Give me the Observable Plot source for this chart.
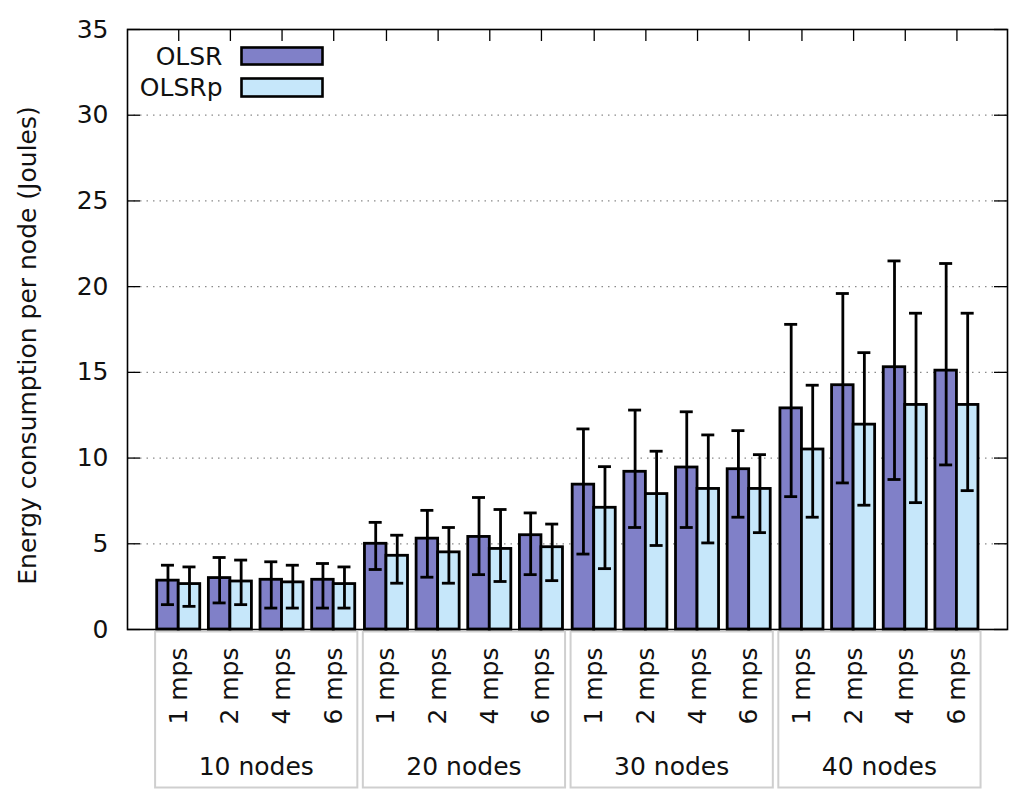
<!DOCTYPE html>
<html>
<head>
<meta charset="utf-8">
<script src="https://cdn.jsdelivr.net/npm/d3@7"></script>
<script src="https://cdn.jsdelivr.net/npm/@observablehq/plot@0.6"></script>
<style>
  html, body { margin: 0; padding: 0; background: #fff; }
  #chart { position: relative; width: 1024px; height: 806px; }
  #chart > svg { position: absolute; left: 0; top: 0; }
</style>
</head>
<body>
<div id="chart"></div>
<script>
const nodes = ["10 nodes", "20 nodes", "30 nodes", "40 nodes"];
const speeds = ["1 mps", "2 mps", "4 mps", "6 mps"];
const seriesNames = ["OLSR", "OLSRp"];
const seriesColors = ["#8080c8", "#c6e7fa"];
const yTicks = [0, 5, 10, 15, 20, 25, 30, 35];
const gridTicks = [5, 10, 15, 20, 25, 30];
const yLabel = "Energy consumption per node (Joules)";

// values per (nodes, speed), nodes-major order
const olsrMean  = [2.85, 3.0, 2.9, 2.9,   5.0, 5.3, 5.4, 5.5,    8.45, 9.2, 9.45, 9.35,   12.9, 14.25, 15.3, 15.1];
const olsrHigh  = [3.75, 4.2, 3.95, 3.85, 6.25, 6.95, 7.7, 6.8,  11.7, 12.8, 12.7, 11.6,  17.8, 19.6, 21.5, 21.35];
const olsrLow   = [1.45, 1.55, 1.25, 1.25, 3.5, 3.05, 3.2, 3.2,  4.4, 5.95, 5.95, 6.55,   7.75, 8.55, 8.75, 9.6];
const olsrpMean = [2.65, 2.8, 2.75, 2.65, 4.3, 4.5, 4.7, 4.8,    7.1, 7.9, 8.2, 8.2,      10.5, 11.95, 13.1, 13.1];
const olsrpHigh = [3.65, 4.05, 3.75, 3.65, 5.5, 5.95, 7.0, 6.15, 9.5, 10.4, 11.35, 10.2,  14.25, 16.15, 18.45, 18.45];
const olsrpLow  = [1.35, 1.45, 1.25, 1.25, 2.7, 2.7, 2.8, 2.85,  3.55, 4.9, 5.05, 5.65,   6.55, 7.25, 7.4, 8.1];

function rowsFor(series, mean, low, high) {
  const out = [];
  nodes.forEach((n, i) => speeds.forEach((s, j) => {
    const k = i * speeds.length + j;
    out.push({nodes: n, speed: s, series, mean: mean[k], low: low[k], high: high[k]});
  }));
  return out;
}
const olsr = rowsFor("OLSR", olsrMean, olsrLow, olsrHigh);
const olsrp = rowsFor("OLSRp", olsrpMean, olsrpLow, olsrpHigh);

const W = 1024, H = 806;
const mL = 127, mR = 17, mT = 29, mB = 177;
const frameW = W - mL - mR, frameH = H - mT - mB;
const font = "DejaVu Sans, Verdana, sans-serif";
const fs = 25;
const ink = "#111";

// background layer: grid, y axis, frame, legend
const back = Plot.plot({
  width: W, height: H,
  marginLeft: mL, marginRight: mR, marginTop: mT, marginBottom: mB,
  style: {fontFamily: font, fontSize: fs + "px", background: "white", color: ink, overflow: "visible"},
  y: {domain: [0, 35], label: null},
  marks: [
    Plot.ruleY(gridTicks, {stroke: "#8a8a8a", strokeWidth: 1.2, strokeDasharray: "1.5,5"}),
    Plot.ruleY(yTicks, {insetRight: frameW - 13, stroke: "#000", strokeWidth: 1.3}),
    Plot.ruleY(yTicks, {insetLeft: frameW - 13, stroke: "#000", strokeWidth: 1.3}),
    Plot.axisY(yTicks, {anchor: "left", tickSize: 0, tickPadding: 19, fontSize: fs, label: null}),
    Plot.text([yLabel], {frameAnchor: "left", textAnchor: "middle", lineAnchor: "middle", rotate: -90, dx: -100, dy: 16, fontSize: fs, fill: ink}),
    Plot.text([seriesNames[0]], {frameAnchor: "top-left", textAnchor: "end", lineAnchor: "middle", dx: 222 - mL, dy: 56 - mT, fontSize: fs, fill: ink}),
    Plot.text([seriesNames[1]], {frameAnchor: "top-left", textAnchor: "end", lineAnchor: "middle", dx: 222 - mL, dy: 87 - mT, fontSize: fs, fill: ink}),
    Plot.frame({fill: seriesColors[0], stroke: "#000", strokeWidth: 2.6,
      insetLeft: 241 - mL, insetRight: W - mR - 322, insetTop: 47 - mT, insetBottom: H - mB - 64}),
    Plot.frame({fill: seriesColors[1], stroke: "#000", strokeWidth: 2.6,
      insetLeft: 241 - mL, insetRight: W - mR - 322, insetTop: 78 - mT, insetBottom: H - mB - 96}),
    Plot.frame({stroke: "#000", strokeWidth: 1.6})
  ]
});

// foreground layer: faceted bars and category axes
function build(bw) {
  const half = bw / 2, q = bw / 4, cap = 6.5;
  return Plot.plot({
    width: W, height: H,
    marginLeft: mL, marginRight: mR, marginTop: mT, marginBottom: mB,
    style: {fontFamily: font, fontSize: fs + "px", background: "transparent", color: ink, overflow: "visible"},
    fx: {domain: nodes, paddingInner: 0.0265, paddingOuter: 0.1313, align: 0.506, round: false, label: null},
    x: {domain: speeds, paddingInner: 0.1667, paddingOuter: 0.0407, round: false, label: null},
    y: {domain: [0, 35], label: null, axis: null},
    marks: [
      Plot.frame({stroke: "#cfcfcf", strokeWidth: 2, insetTop: frameH + 2, insetBottom: -158}),
      Plot.barY(olsr, {fx: "nodes", x: "speed", y: "mean", fill: seriesColors[0], stroke: "#000", strokeWidth: 2.8, insetRight: half}),
      Plot.barY(olsrp, {fx: "nodes", x: "speed", y: "mean", fill: seriesColors[1], stroke: "#000", strokeWidth: 2.8, insetLeft: half}),
      Plot.ruleX(olsr, {fx: "nodes", x: "speed", y1: "low", y2: "high", dx: -q, stroke: "#000", strokeWidth: 2.8}),
      Plot.ruleX(olsrp, {fx: "nodes", x: "speed", y1: "low", y2: "high", dx: q, stroke: "#000", strokeWidth: 2.8}),
      Plot.tickY(olsr, {fx: "nodes", x: "speed", y: "high", insetLeft: q - cap, insetRight: bw - q - cap, stroke: "#000", strokeWidth: 2.8}),
      Plot.tickY(olsr, {fx: "nodes", x: "speed", y: "low", insetLeft: q - cap, insetRight: bw - q - cap, stroke: "#000", strokeWidth: 2.8}),
      Plot.tickY(olsrp, {fx: "nodes", x: "speed", y: "high", insetLeft: bw - q - cap, insetRight: q - cap, stroke: "#000", strokeWidth: 2.8}),
      Plot.tickY(olsrp, {fx: "nodes", x: "speed", y: "low", insetLeft: bw - q - cap, insetRight: q - cap, stroke: "#000", strokeWidth: 2.8}),
      Plot.ruleX(speeds, {x: d => d, insetBottom: frameH - 12, stroke: "#000", strokeWidth: 1.3}),
      Plot.axisX({anchor: "bottom", tickSize: 0, tickPadding: 18, tickRotate: -90, fontSize: fs, label: null}),
      Plot.axisFx({anchor: "bottom", tickSize: 0, tickPadding: 128, fontSize: fs, label: null})
    ]
  });
}

const probe = build(40);
const bw = probe.scale("x").bandwidth;
const front = build(bw);
const el = document.getElementById("chart");
el.appendChild(back);
el.appendChild(front);
</script>
</body>
</html>
